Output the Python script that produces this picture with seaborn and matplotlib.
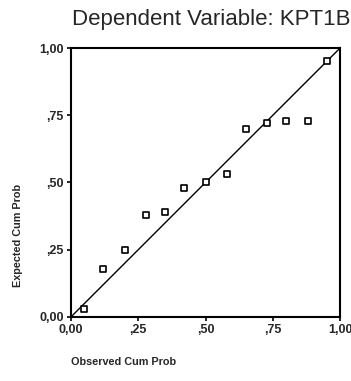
import numpy as np
import pandas as pd
import matplotlib
matplotlib.use("Agg")
import matplotlib.pyplot as plt
import seaborn as sns

# observed vs expected cumulative probabilities
observed = [0.05, 0.12, 0.20, 0.28, 0.35, 0.42, 0.50, 0.58, 0.65, 0.73, 0.80, 0.88, 0.95]
expected = [0.03, 0.18, 0.25, 0.38, 0.39, 0.48, 0.50, 0.53, 0.70, 0.72, 0.73, 0.73, 0.95]
ref_line = [0.0, 1.0]
tick_vals = [0.0, 0.25, 0.5, 0.75, 1.0]
tick_labels = ["0,00", ",25", ",50", ",75", "1,00"]

sns.set_style("white")
plt.rcParams["font.family"] = ["Liberation Sans", "DejaVu Sans"]

df = pd.DataFrame({"obs": observed, "exp": expected})
line_df = pd.DataFrame({"x": ref_line, "y": ref_line})

fig = plt.figure(figsize=(3.51, 3.81), dpi=100)
ax = fig.add_axes([0.202, 0.168, 0.767, 0.706])

sns.lineplot(data=line_df, x="x", y="y", color="black", linewidth=1.0, ax=ax)
sns.scatterplot(data=df, x="obs", y="exp", marker="s", s=13,
                facecolor="white", edgecolor="black", linewidth=1.2, ax=ax, zorder=3)

ax.set_xlim(0, 1)
ax.set_ylim(0, 1)
ax.set_xticks(tick_vals)
ax.set_yticks(tick_vals)
ax.set_xticklabels(tick_labels, fontsize=9, fontweight="bold")
ax.set_yticklabels(tick_labels, fontsize=9, fontweight="bold")
ax.tick_params(axis="both", length=3, width=1.2, color="black", pad=2,
               bottom=True, left=True)
for sp in ax.spines.values():
    sp.set_color("black")
    sp.set_linewidth(1.5)

ax.set_xlabel("")
ax.set_ylabel("")
fig.text(0.202, 0.05, "Observed Cum Prob", fontsize=7.8, fontweight="bold",
         ha="left", va="center")
fig.text(0.05, 0.383, "Expected Cum Prob", fontsize=7.8, fontweight="bold",
         rotation=90, ha="center", va="center")
# title: reference crops it at the right edge, keep it whole here
fig.text(0.205, 0.95, "Dependent Variable: KPT1B", fontsize=16,
         ha="left", va="center")

fig.savefig("out.png", dpi=100)
